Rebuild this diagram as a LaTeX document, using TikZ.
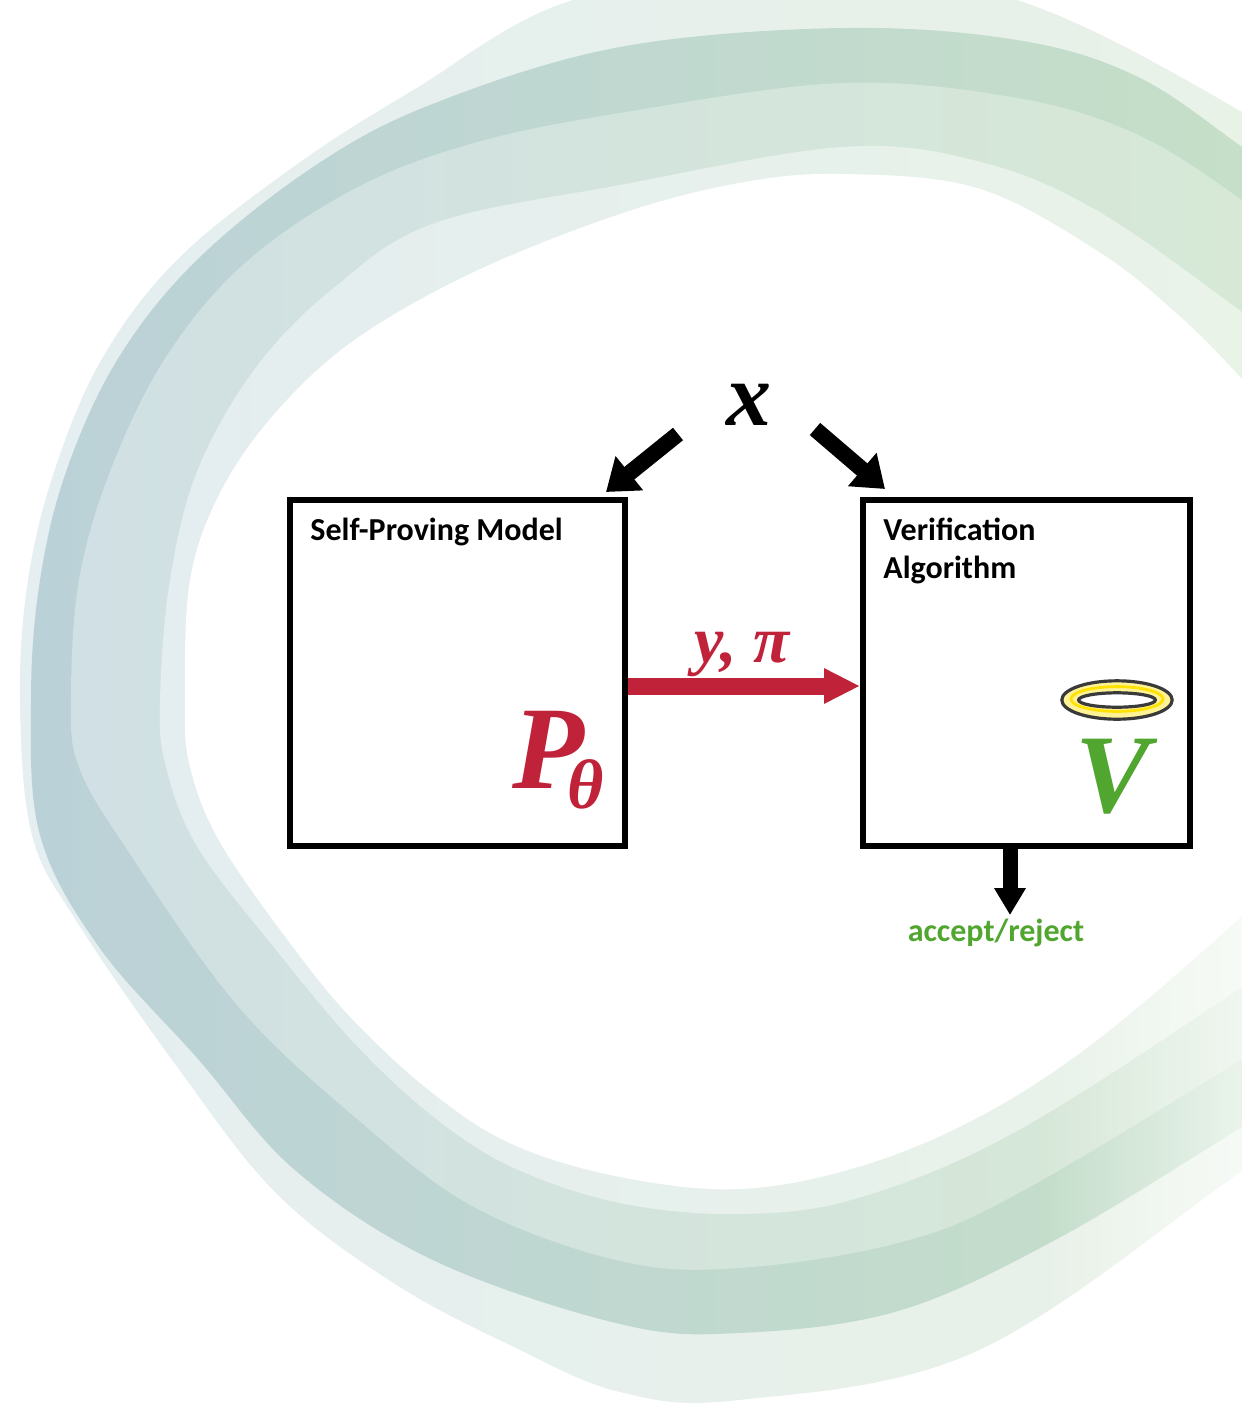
\documentclass[tikz,border=0pt]{standalone}
\usepackage{fontspec}
\setmainfont{Carlito}
\newfontfamily\symfont{Liberation Serif}
\usetikzlibrary{arrows.meta,calc,fadings}

\definecolor{prred}{RGB}{192,34,58}
\definecolor{vgreen}{RGB}{80,166,46}
\definecolor{halorim}{RGB}{58,58,58}
\definecolor{halofill}{RGB}{255,243,150}
\definecolor{haloshine}{RGB}{255,226,0}
% ring band colours: blue-grey on the left, pale green on the right
\definecolor{faintL}{RGB}{229,238,240}
\definecolor{faintR}{RGB}{233,243,229}
\definecolor{darkL}{RGB}{187,209,216}
\definecolor{darkR}{RGB}{199,226,196}
\definecolor{midL}{RGB}{208,224,228}
\definecolor{midR}{RGB}{216,234,211}
\definecolor{lightL}{RGB}{228,237,239}
\definecolor{lightR}{RGB}{234,244,231}

\tikzfading[name=washright, left color=transparent!100, right color=transparent!35]

\tikzset{
  panel/.style={draw=black, line width=3pt, fill=white, inner sep=0pt},
  paneltitle/.style={font=\bfseries\fontsize{16}{19}\selectfont, inner sep=0pt, anchor=base west},
  fatarrow/.style={line width=8pt, -{Triangle[length=15pt,width=21pt]}},
  redarrow/.style={prred, line width=8.5pt, -{Triangle[length=18pt,width=16.5pt]}},
  downarrow/.style={line width=7.5pt, -{Triangle[length=13.5pt,width=15pt]}},
  symb/.style={inner sep=0pt, font=\symfont\bfseries\itshape},
}

\begin{document}
\begin{tikzpicture}[x=0.5pt,y=-0.5pt]
\useasboundingbox (0,0) rectangle (1242,1404);

% swirling ring in the background, drawn as nested shaded bands
\begin{scope}
\clip (0,0) rectangle (1242,1404);
\shade[left color=faintL, right color=faintR]
  plot[smooth cycle, tension=0.6] coordinates {
  (20,700) (32,835) (79,925) (178,1068) (277,1194) (395,1284) (514,1347)
  (620,1392) (739,1400) (977,1351) (1242,1171) (1410,1050) (1560,630)
  (1400,220) (1242,112) (1017,0) (800,-30) (573,0)
  (415,89) (296,165) (178,259) (103,357) (55,469) (28,580)};
\shade[left color=darkL, right color=darkR]
  plot[smooth cycle, tension=0.6] coordinates {
  (31,700) (40,835) (99,947) (198,1059) (296,1171) (435,1261) (620,1324)
  (739,1333) (898,1311) (1057,1239) (1242,1127) (1390,1035) (1520,630)
  (1380,250) (1242,147) (1136,76) (1017,40) (842,28) (620,47)
  (435,103) (316,165) (198,259) (119,357) (67,469) (40,580)};
\shade[left color=midL, right color=midR]
  plot[smooth cycle, tension=0.6] coordinates {
  (71,700) (79,767) (126,848) (237,1005) (356,1118) (474,1207) (620,1261)
  (739,1268) (898,1243) (1017,1194) (1242,1059) (1370,975) (1480,630)
  (1360,290) (1242,200) (1136,134) (1017,98) (842,83) (620,113)
  (474,143) (356,188) (245,263) (166,357) (111,469) (79,580)};
\shade[left color=lightL, right color=lightR]
  plot[smooth cycle, tension=0.6] coordinates {
  (160,700) (166,767) (198,848) (277,951) (356,1045) (435,1118) (514,1168)
  (620,1203) (739,1214) (858,1198) (1017,1131) (1242,987) (1350,910)
  (1440,640) (1330,380) (1242,312) (1096,210) (977,161) (842,147)
  (620,185) (435,223) (336,286) (257,366) (198,469) (170,580)};
\fill[white]
  plot[smooth cycle, tension=0.6] coordinates {
  (185,700) (190,767) (221,844) (296,951) (356,1023) (435,1095) (514,1145)
  (620,1177) (739,1189) (858,1167) (977,1118) (1096,1041) (1242,916)
  (1330,830) (1400,650) (1320,470) (1242,379) (1175,312) (1096,250)
  (977,188) (842,174) (739,183) (620,214) (474,272) (356,339) (277,411)
  (221,491) (190,580)};
% the lower right end of the ring washes out towards white
\fill[white, path fading=washright] (1040,860) rectangle (1242,1404);
\end{scope}

% the two panels
\node[panel, minimum width=167.5pt, minimum height=173pt] (sp) at (457.5,673) {};
\node[panel, minimum width=163.5pt, minimum height=173pt] (va) at (1026.5,673) {};

\node[paneltitle] (sptitle) at (310,540) {Self-Proving Model};
\node[paneltitle] (vatitle1) at (883,540) {Verification};
\node[paneltitle] (vatitle2) at (883,578) {Algorithm};

% input x and its two arrows
\node[symb, font=\symfont\bfseries\itshape\fontsize{45}{45}\selectfont, anchor=base] (x) at (749,425) {x};
\coordinate (xl) at (678,434);
\coordinate (xr) at (815,429);
\draw[fatarrow] (xl) -- ($(sp.north east)+(-22,-5)$);
\draw[fatarrow] (xr) -- ($(va.north west)+(25,-8)$);

% prover output
\draw[redarrow] ($(sp.east)+(0,13)$) -- ($(va.west)+(0,13)$);
\node[symb, font=\symfont\bfseries\itshape\fontsize{33}{33}\selectfont, text=prred, anchor=base] (ypi) at (742,662) {y, π};

% prover symbol
\node[symb, font=\symfont\bfseries\itshape\fontsize{59}{59}\selectfont, text=prred, anchor=base west] (P) at (512,788) {P};
\node[symb, font=\symfont\bfseries\itshape\fontsize{35}{35}\selectfont, text=prred, anchor=base west] (theta) at (567,808) {θ};

% verifier symbol with its halo
\coordinate (halo) at (1117,700);
\fill[halofill, draw=halorim, line width=1.6pt] (halo) ellipse [x radius=27.6pt, y radius=9.6pt];
\draw[haloshine, line width=1.4pt] ($(halo)+(0,-1)$) ellipse [x radius=23pt, y radius=6.2pt];
\fill[white, draw=halorim, line width=1.6pt] (halo) ellipse [x radius=19.2pt, y radius=3.6pt];
\node[symb, font=\symfont\bfseries\itshape\fontsize{56}{56}\selectfont, text=vgreen, anchor=base] (V) at (1113,812) {V};

% verifier decision
\coordinate (vout) at (1010,849);
\coordinate (acctip) at (1010,915);
\draw[downarrow] (vout) -- (acctip);
\node[font=\bfseries\fontsize{16}{19}\selectfont, text=vgreen, inner sep=0pt, anchor=base] (acc) at (996,941) {accept/reject};
\end{tikzpicture}
\end{document}
